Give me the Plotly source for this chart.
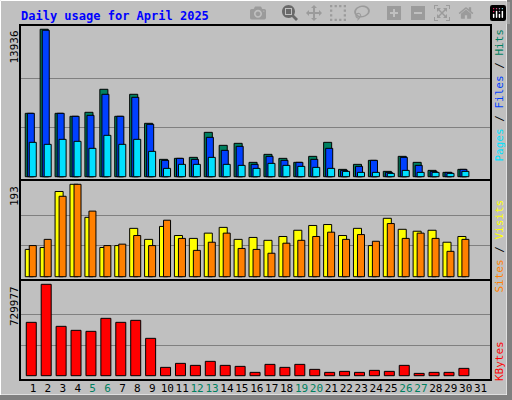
import plotly.graph_objects as go

days = list(range(1, 32))
hits = [5990,13936,5990,5707,6085,8261,5707,7788,5045,1640,1734,1829,4193,2964,3153,1356,2112,1734,1356,1923,3247,694,1167,1545,504,1923,1356,599,410,694,None]
files = [5990,13840,5990,5707,5801,7788,5707,7504,4950,1545,1734,1640,3720,2491,2869,1167,1923,1545,1356,1640,2680,599,977,1545,410,1829,1072,504,410,694,None]
pages = [3247,3058,3531,3342,2680,3909,3058,3531,2396,788,1167,1167,1829,1167,1072,788,1261,1072,977,883,788,504,410,410,315,599,410,410,315,504,None]
visits = [57,61,178,193,124,61,65,101,78,105,86,80,91,103,78,82,76,84,97,107,109,86,101,65,122,99,95,97,72,84,None]
sites = [65,78,168,193,137,65,68,86,65,118,80,55,72,91,59,57,49,70,76,84,93,78,88,74,111,80,91,80,53,78,None]
kbytes = [426263,729977,394270,362300,354300,458200,426263,442200,298400,66600,98600,82600,114600,82600,74600,26600,90600,66600,90600,50600,26600,34600,26600,42600,34600,82600,18600,26600,26600,58600,None]
weekend = {5,6,12,13,19,20,26,27}
max_hits, max_visits, max_kb = 13936, 193, 729977

W, H = 512, 400
def py(p): return 1 - p / H

line = dict(color="black", width=1)
fig = go.Figure()
def bar(y, color, off, w, axis):
    fig.add_trace(go.Bar(x=days, y=y, marker=dict(color=color, line=line), offset=off, width=w,
                         xaxis="x", yaxis=axis, showlegend=False))
bar(hits, "#008060", -0.52, 0.54, "y")
bar(files, "#0040FF", -0.38, 0.47, "y")
bar(pages, "#00E0FF", -0.25, 0.47, "y")
bar(visits, "#FFFF00", -0.52, 0.54, "y2")
bar(sites, "#FF8000", -0.25, 0.47, "y2")
bar(kbytes, "#FF0000", -0.45, 0.67, "y3")

xr = [0.129, 31.7]
dom = [20 / W, 491 / W]
ticktext = [f'<span style="color:#008060">{d}</span>' if d in weekend else str(d) for d in days]
fnt = dict(family="DejaVu Sans Mono", size=11, color="black")
def yax(dm, rng, mx):
    return dict(domain=dm, range=rng, tickvals=[mx / 3, 2 * mx / 3], showticklabels=False,
                showgrid=True, gridcolor="#808080", gridwidth=1, zeroline=False, ticks="", anchor="x")
fig.update_layout(
    width=W, height=H, margin=dict(l=0, r=0, t=0, b=0), barmode="overlay",
    paper_bgcolor="#C0C0C0", plot_bgcolor="#C0C0C0", font=fnt,
    xaxis=dict(range=xr, domain=dom, showgrid=False, zeroline=False, anchor="y3",
               tickvals=days, ticktext=ticktext, tickfont=fnt, ticks="", tickangle=0),
    yaxis=yax([py(180), py(25)], [-312, 14337], max_hits),
    yaxis2=yax([py(280), py(180)], [-6.9, 202], max_visits),
    yaxis3=yax([py(380), py(280)], [-34300, 764300], max_kb),
)

shapes = [
    dict(type="rect", xref="paper", yref="paper", x0=0.5/W, x1=1-5/W, y0=py(H-5), y1=py(0.5), line=dict(color="white", width=1)),
    dict(type="rect", xref="paper", yref="paper", x0=1-5/W, x1=1, y0=0, y1=1, fillcolor="#808080", line=dict(width=0)),
    dict(type="rect", xref="paper", yref="paper", x0=0, x1=1, y0=0, y1=5/H, fillcolor="#808080", line=dict(width=0)),
    dict(type="rect", xref="paper", yref="paper", x0=dom[0], x1=dom[1], y0=py(380), y1=py(25), line=dict(color="black", width=2)),
    dict(type="line", xref="paper", yref="paper", x0=dom[0], x1=dom[1], y0=py(180), y1=py(180), line=dict(color="black", width=2)),
    dict(type="line", xref="paper", yref="paper", x0=dom[0], x1=dom[1], y0=py(280), y1=py(280), line=dict(color="black", width=2)),
]
fig.update_layout(shapes=shapes)

ann = [
    dict(text="<b>Daily usage for April 2025</b>", x=19/W, y=py(16), xanchor="left", yanchor="middle",
         font=dict(family="DejaVu Sans Mono", size=12, color="#0000FF")),
    dict(text=str(max_hits), x=14/W, y=py(29), textangle=-90, xanchor="center", yanchor="top"),
    dict(text=str(max_visits), x=14/W, y=py(184), textangle=-90, xanchor="center", yanchor="top"),
    dict(text=str(max_kb), x=14/W, y=py(284), textangle=-90, xanchor="center", yanchor="top"),
    dict(text='<span style="color:#00E0FF">Pages</span> / <span style="color:#0040FF">Files</span> / <span style="color:#008060">Hits</span>',
         x=499/W, y=py(27), textangle=-90, xanchor="center", yanchor="top"),
    dict(text='<span style="color:#FF8000">Sites</span> / <span style="color:#FFFF00">Visits</span>',
         x=499/W, y=py(198), textangle=-90, xanchor="center", yanchor="top"),
    dict(text='<span style="color:#FF0000">KBytes</span>',
         x=499/W, y=py(339), textangle=-90, xanchor="center", yanchor="top"),
]
for a in ann:
    a.setdefault("font", fnt)
    a.update(xref="paper", yref="paper", showarrow=False)
fig.update_layout(annotations=ann)
fig.write_html("out.html", post_script="document.body.style.margin='0';")
